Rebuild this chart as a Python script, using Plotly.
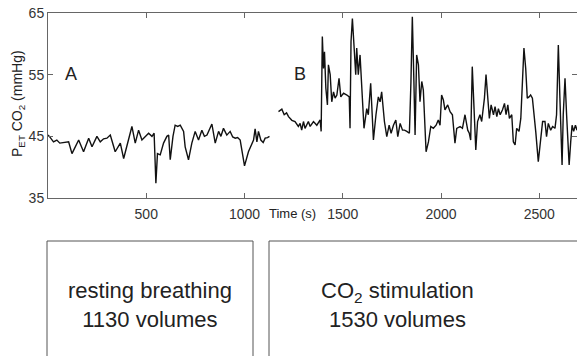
import plotly.graph_objects as go

# ---- data ----
t_rest = [0, 8, 28, 45, 60, 85, 105, 122, 140, 156, 181, 207, 224, 249, 266, 283, 300, 317,
          342, 368, 385, 410, 427, 444, 461, 478, 495, 512, 529, 540, 549, 557, 571, 588,
          605, 614, 622, 636, 647, 660, 673, 690, 698, 715, 732, 749, 766, 783, 796, 809,
          834, 851, 868, 880, 893, 910, 927, 940, 953, 965, 978, 1000, 1020, 1046, 1054,
          1063, 1071, 1083, 1095, 1105, 1117, 1127]
v_rest = [45.2, 44.95, 44.1, 44.4, 43.9, 44.0, 44.1, 42.2, 43.5, 44.4, 42.5, 44.7, 43.3, 45.0,
          44.1, 44.6, 44.7, 45.2, 42.5, 43.9, 41.4, 44.4, 46.6, 43.9, 46.0, 44.4, 45.0, 45.5,
          45.0, 45.5, 37.4, 42.2, 42.0, 43.9, 45.0, 45.2, 41.2, 45.0, 46.8, 46.6, 46.8, 45.8,
          43.3, 41.2, 43.9, 45.8, 44.4, 46.0, 45.0, 45.2, 47.0, 43.9, 45.8, 45.0, 46.3, 45.2,
          45.8, 44.9, 44.7, 44.8, 44.4, 40.2, 42.5, 44.4, 46.2, 44.1, 45.8, 44.4, 44.0, 44.7,
          44.8, 45.0]

t_co2 = [1173, 1190, 1202, 1214, 1224, 1241, 1257, 1274, 1283, 1291, 1300, 1308, 1325, 1334,
         1351, 1368, 1385, 1390, 1396, 1402, 1407, 1414, 1422, 1427, 1436, 1444, 1453, 1461,
         1470, 1481, 1490, 1504, 1521, 1533, 1537, 1542, 1549, 1557, 1566, 1571, 1579, 1588,
         1596, 1608, 1622, 1630, 1642, 1656, 1669, 1681, 1690, 1698, 1712, 1724, 1736, 1746,
         1758, 1770, 1780, 1792, 1804, 1814, 1826, 1839, 1847, 1854, 1862, 1868, 1876, 1885,
         1893, 1902, 1910, 1915, 1924, 1936, 1948, 1961, 1975, 1986, 1995, 2003, 2012, 2020,
         2034, 2046, 2058, 2071, 2080, 2097, 2109, 2122, 2136, 2144, 2151, 2159, 2168, 2177,
         2186, 2198, 2207, 2221, 2229, 2238, 2246, 2255, 2267, 2275, 2284, 2292, 2301, 2313,
         2323, 2331, 2340, 2348, 2360, 2368, 2377, 2385, 2397, 2406, 2414, 2422, 2431, 2439,
         2448, 2456, 2465, 2473, 2482, 2495, 2507, 2517, 2529, 2537, 2546, 2558, 2568, 2580,
         2588, 2597, 2605, 2616, 2622, 2631, 2639, 2652, 2660, 2667, 2675, 2684, 2692]
v_co2 = [49.0, 49.4, 48.5, 48.8, 48.2, 47.6, 47.4, 46.6, 47.1, 46.0, 47.4, 46.3, 47.4, 46.6,
         47.4, 46.8, 47.65, 45.8, 61.2, 56.0, 58.7, 52.8, 50.1, 56.6, 55.0, 50.6, 52.2, 51.2,
         51.7, 54.4, 51.4, 52.0, 51.7, 51.4, 46.3, 60.35, 64.1, 59.8, 55.0, 59.3, 55.0, 58.2,
         52.8, 46.3, 49.5, 48.5, 53.6, 44.4, 48.5, 51.4, 50.6, 52.2, 47.4, 44.95, 46.8, 45.5,
         46.8, 47.65, 44.95, 47.1, 46.0, 46.0, 45.8, 45.5, 53.9, 64.4, 53.9, 45.2, 58.2, 56.6,
         50.6, 53.9, 52.5, 49.5, 42.5, 44.1, 46.6, 46.3, 46.8, 47.65, 46.8, 51.7, 50.9, 49.3,
         50.1, 49.0, 48.5, 43.9, 46.3, 46.6, 46.3, 48.5, 46.0, 45.5, 44.4, 56.3, 48.5, 42.8,
         47.4, 48.5, 47.4, 51.2, 55.0, 51.7, 47.9, 50.1, 48.5, 49.8, 48.2, 49.5, 48.5, 49.3,
         50.35, 48.5, 50.1, 47.9, 48.5, 44.1, 43.6, 46.3, 45.8, 47.9, 55.0, 59.3, 56.0, 51.2,
         51.4, 51.7, 51.2, 49.0, 45.8, 40.9, 45.2, 47.4, 47.4, 44.95, 47.1, 46.0, 46.6, 46.3,
         48.5, 59.8, 51.2, 40.35, 48.5, 54.4, 48.5, 40.35, 44.1, 46.8, 45.8, 46.8, 46.0]

x_ticks = [500, 1000, 1500, 2000, 2500]
y_ticks = [35, 45, 55, 65]

# ---- layout geometry (pixels) ----
W, H = 577, 356
L, R, T, B = 48, 0, 13, 158
PW, PH = W - L - R, H - T - B


def px(x):
    return (x - L) / PW


def py(y):
    return (H - B - y) / PH


FONT = "Liberation Sans, Arial, sans-serif"

fig = go.Figure()
fig.add_trace(go.Scatter(x=t_rest, y=v_rest, mode="lines",
                         line=dict(color="#111111", width=1.4), showlegend=False))
fig.add_trace(go.Scatter(x=t_co2, y=v_co2, mode="lines",
                         line=dict(color="#111111", width=1.4), showlegend=False))

axis_common = dict(showline=True, linecolor="#666666", linewidth=1, mirror="ticks",
                   ticks="inside", ticklen=5, tickcolor="#666666", showgrid=False,
                   zeroline=False, tickfont=dict(family=FONT, size=14, color="#333333"))

fig.update_xaxes(range=[0, 2692], tickvals=x_ticks, ticklabelstandoff=3, **axis_common)
fig.update_yaxes(range=[35, 65], tickvals=y_ticks, ticklabelstandoff=0, **axis_common)

ann = [
    dict(text="A", x=px(71), y=py(74), font=dict(size=18)),
    dict(text="B", x=px(300), y=py(74), font=dict(size=18)),
    dict(text="Time (s)", x=px(292), y=py(213), font=dict(size=13)),
    dict(text="P<sub>ET</sub> CO<sub>2</sub> (mmHg)", x=px(18), y=py(104),
         textangle=-90, font=dict(size=14)),
    dict(text="resting breathing<br>1130 volumes", x=px(150), y=py(305),
         font=dict(size=22, color="#222222")),
    dict(text="CO<sub>2</sub> stimulation<br>1530 volumes", x=px(397), y=py(305),
         font=dict(size=22, color="#222222")),
]
annotations = []
for a in ann:
    f = dict(family=FONT, color="#222222")
    f.update(a.pop("font"))
    annotations.append(dict(xref="paper", yref="paper", showarrow=False,
                            xanchor="center", yanchor="middle", font=f, **a))

shapes = [
    dict(type="rect", xref="paper", yref="paper", x0=px(47), x1=px(253),
         y0=py(400), y1=py(241), line=dict(color="#555555", width=1)),
    dict(type="rect", xref="paper", yref="paper", x0=px(269), x1=px(620),
         y0=py(400), y1=py(241), line=dict(color="#555555", width=1)),
]

fig.update_layout(width=W, height=H, margin=dict(l=L, r=R, t=T, b=B),
                  paper_bgcolor="white", plot_bgcolor="white",
                  annotations=annotations, shapes=shapes, showlegend=False)

fig.write_html("out.html", config={"displayModeBar": False})
